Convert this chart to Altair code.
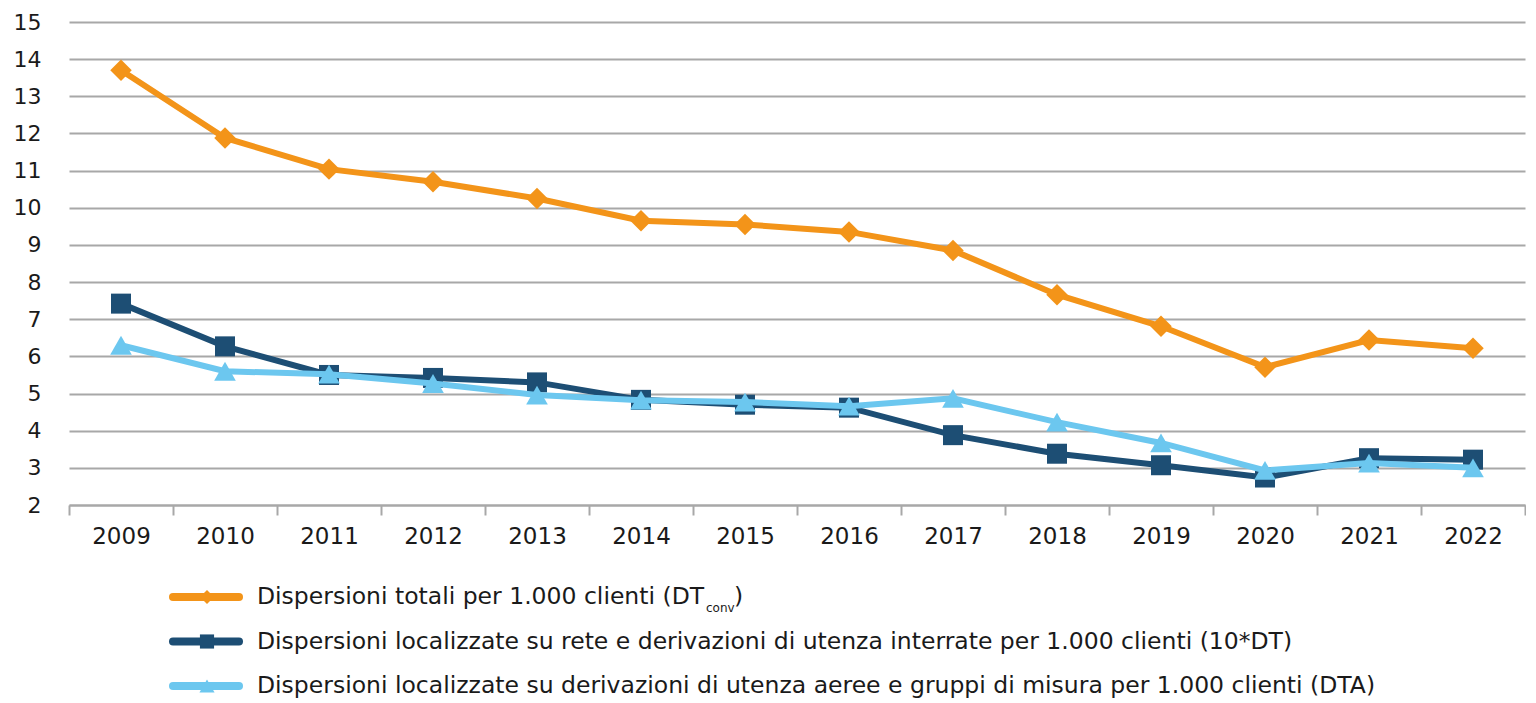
import altair as alt
import pandas as pd

# ---------------- data ----------------
years = [str(y) for y in range(2009, 2023)]
dt_conv = [13.7, 11.88, 11.04, 10.7, 10.25, 9.65, 9.55, 9.35, 8.85, 7.66, 6.81, 5.71, 6.44, 6.22]
dt_ten = [7.42, 6.27, 5.5, 5.42, 5.3, 4.83, 4.7, 4.62, 3.88, 3.38, 3.07, 2.74, 3.26, 3.22]
dta = [6.3, 5.6, 5.52, 5.27, 4.96, 4.82, 4.77, 4.66, 4.87, 4.23, 3.67, 2.93, 3.13, 3.0]

series_keys = ["DTconv", "10DT", "DTA"]
legend_labels = [
    "Dispersioni totali per 1.000 clienti (DT",
    "Dispersioni localizzate su rete e derivazioni di utenza interrate per 1.000 clienti (10*DT)",
    "Dispersioni localizzate su derivazioni di utenza aeree e gruppi di misura per 1.000 clienti (DTA)",
]
colors = ["#F39419", "#1D4E74", "#6CC7EF"]
shapes = ["diamond", "square", "triangle-up"]
marker_sizes = [460, 400, 470]
legend_marker_sizes = [200, 200, 230]

FONT = "DejaVu Sans"
TEXT = "#1a1a1a"
GRID = "#a8a8a8"
W, H = 1456, 483

rows = []
for key, vals in zip(series_keys, [dt_conv, dt_ten, dta]):
    for yr, v in zip(years, vals):
        rows.append({"year": yr, "value": v, "series": key})
df = pd.DataFrame(rows)

x_enc = alt.X(
    "year:O", sort=years,
    scale=alt.Scale(type="band", paddingInner=0, paddingOuter=0),
    axis=alt.Axis(title=None, labelAngle=0, tickBand="extent", tickSize=10,
                  tickColor=GRID, tickWidth=2, domainColor=GRID, domainWidth=2,
                  labelFont=FONT, labelFontSize=23, labelColor=TEXT,
                  labelPadding=10, grid=False),
)
y_enc = alt.Y(
    "value:Q",
    scale=alt.Scale(domain=[2, 15], nice=False, zero=False),
    axis=alt.Axis(title=None, values=list(range(2, 16)), grid=True,
                  gridColor=GRID, gridWidth=2, domain=False, ticks=False,
                  labelFont=FONT, labelFontSize=22, labelColor=TEXT,
                  labelPadding=28),
)

layers = []
for key, col, shp, sz in zip(series_keys, colors, shapes, marker_sizes):
    base = alt.Chart(df).transform_filter(alt.datum.series == key)
    layers.append(base.mark_line(strokeWidth=6, color=col).encode(x=x_enc, y=y_enc))
    layers.append(base.mark_point(filled=True, opacity=1, shape=shp, size=sz, color=col)
                  .encode(x=x_enc, y=y_enc))
top = alt.layer(*layers).properties(width=W, height=H)

# ---------------- legend panel ----------------
LW, LH = 1400, 144
ROW_RANGE = [49, 138]
leg_df = pd.DataFrame({"row": [0, 1, 2], "label": legend_labels, "key": series_keys,
                       "msize": legend_marker_sizes})
ly = alt.Y("row:Q", scale=alt.Scale(domain=[0, 2], range=ROW_RANGE), axis=None)
col_enc = alt.Color("key:N", scale=alt.Scale(domain=series_keys, range=colors), legend=None)
shp_enc = alt.Shape("key:N", scale=alt.Scale(domain=series_keys, range=shapes), legend=None)

leg_base = alt.Chart(leg_df)
leg_lines = leg_base.mark_rule(strokeWidth=8, strokeCap="round").encode(
    x=alt.value(104), x2=alt.value(170), y=ly, color=col_enc)
leg_marks = leg_base.mark_point(filled=True, opacity=1).encode(
    x=alt.value(138), y=ly, color=col_enc, shape=shp_enc,
    size=alt.Size("msize:Q", scale=None, legend=None))
leg_text = leg_base.mark_text(align="left", baseline="middle", font=FONT,
                              fontSize=23.5, color=TEXT).encode(
    x=alt.value(188), y=ly, text="label:N")

sub_df = pd.DataFrame({"row": [0], "sub": ["conv"], "close": [")"]})
sub_base = alt.Chart(sub_df)
leg_sub = sub_base.mark_text(align="left", baseline="middle", font=FONT,
                             fontSize=12, color=TEXT, dy=11).encode(
    x=alt.value(637), y=ly, text="sub:N")
leg_close = sub_base.mark_text(align="left", baseline="middle", font=FONT,
                               fontSize=23.5, color=TEXT).encode(
    x=alt.value(665), y=ly, text="close:N")

legend = alt.layer(leg_lines, leg_marks, leg_text, leg_sub, leg_close).properties(
    width=LW, height=LH)

chart = (
    alt.vconcat(top, legend, spacing=0)
    .properties(padding={"left": 5, "top": 3, "right": 0, "bottom": 0})
    .configure_view(stroke=None)
)

chart.save("out.html", embed_options={"renderer": "svg", "actions": False})
